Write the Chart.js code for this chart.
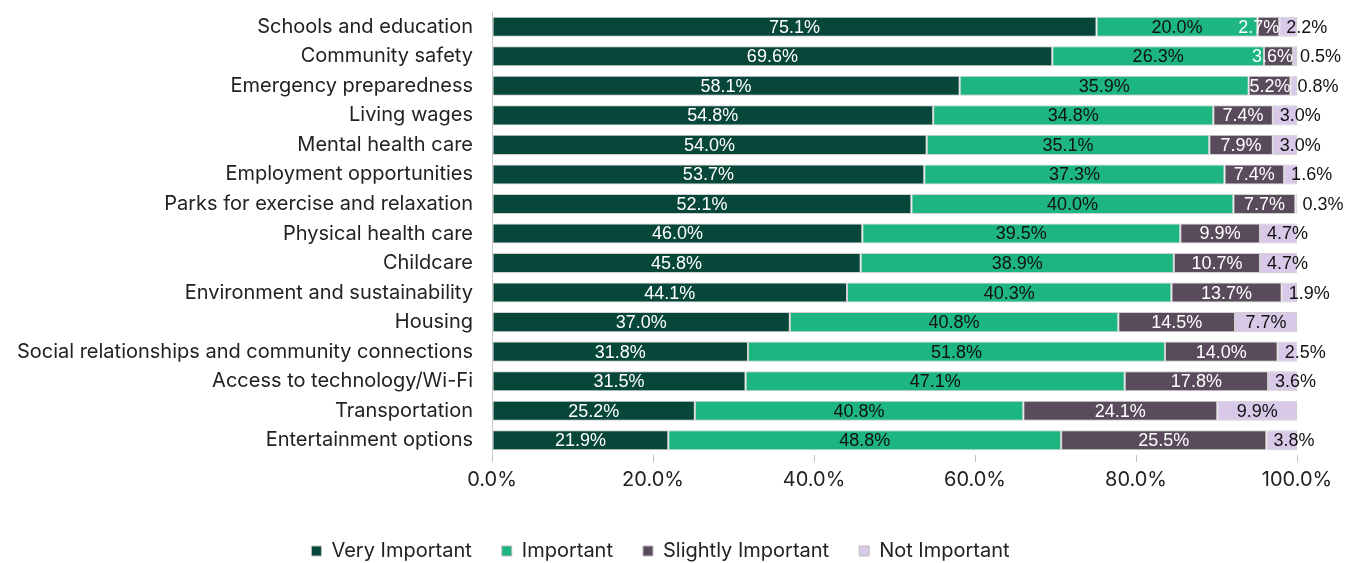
<!DOCTYPE html>
<html><head><meta charset="utf-8">
<script src="https://cdn.jsdelivr.net/npm/chart.js@4.4.1/dist/chart.umd.min.js"></script>
<style>html,body{margin:0;padding:0;background:#fff}#wrap{width:1357px;height:563px}</style>
</head><body><div id="wrap"><canvas id="c" width="1357" height="563"></canvas></div>
<script>
const categories = ["Schools and education","Community safety","Emergency preparedness","Living wages","Mental health care","Employment opportunities","Parks for exercise and relaxation","Physical health care","Childcare","Environment and sustainability","Housing","Social relationships and community connections","Access to technology/Wi-Fi","Transportation","Entertainment options"];
const veryImportant = [75.1,69.6,58.1,54.8,54.0,53.7,52.1,46.0,45.8,44.1,37.0,31.8,31.5,25.2,21.9];
const important = [20.0,26.3,35.9,34.8,35.1,37.3,40.0,39.5,38.9,40.3,40.8,51.8,47.1,40.8,48.8];
const slightlyImportant = [2.7,3.6,5.2,7.4,7.9,7.4,7.7,9.9,10.7,13.7,14.5,14.0,17.8,24.1,25.5];
const notImportant = [2.2,0.5,0.8,3.0,3.0,1.6,0.3,4.7,4.7,1.9,7.7,2.5,3.6,9.9,3.8];
const xTicks = [0,20,40,60,80,100];

const FONT = "Inter, sans-serif";
const FS = 20;
const LFONT = "'Liberation Sans', Arial, sans-serif";
const LFS = 18;
const colors = ['#07473a','#1db580','#5a4b5c','#d9c9e8'];
const labelColors = ['#ffffff','#111111','#ffffff','#111111'];

const labelPlugin = {
  id:'segLabels',
  afterLayout(chart){
    if (chart.legend) { chart.legend.left += 24; }
  },
  afterDatasetsDraw(chart){
    const ctx = chart.ctx;
    ctx.save();
    ctx.font = LFS + "px " + LFONT;
    ctx.textBaseline = 'middle';
    chart.data.datasets.forEach((ds, di) => {
      const meta = chart.getDatasetMeta(di);
      meta.data.forEach((bar, i) => {
        const v = ds.data[i];
        const txt = v.toFixed(1) + '%';
        const w = ctx.measureText(txt).width;
        const left = Math.min(bar.x, bar.base), right = Math.max(bar.x, bar.base);
        const segW = right - left;
        let x, align = 'center';
        if (w + 4 <= segW) { x = (left + right) / 2; }
        else if (di === 3) { x = left + 7; align = 'left'; }
        else if (di === 2) { x = right; align = 'right'; }
        else { x = (left + right) / 2; }
        ctx.textAlign = align;
        ctx.fillStyle = labelColors[di];
        ctx.fillText(txt, x, bar.y + 1);
      });
    });
    ctx.restore();
  }
};

new Chart(document.getElementById('c'), {
  type:'bar',
  data:{
    labels: categories,
    datasets:[
      {label:'Very Important', data: veryImportant},
      {label:'Important', data: important},
      {label:'Slightly Important', data: slightlyImportant},
      {label:'Not Important', data: notImportant}
    ].map((d,i)=>Object.assign(d,{backgroundColor:colors[i],borderColor:'#d0d0d0',borderWidth:1,borderSkipped:false,barPercentage:1,categoryPercentage:0.68}))
  },
  options:{
    indexAxis:'y',
    responsive:false,
    animation:false,
    layout:{padding:{top:0,right:60,bottom:-8,left:0}},
    plugins:{
      tooltip:{enabled:false},
      legend:{
        position:'bottom',
        labels:{font:{family:FONT,size:FS},color:'#222',boxWidth:10,boxHeight:10,padding:30,generateLabels(chart){
          return chart.data.datasets.map((d,i)=>({text:d.label,fillStyle:colors[i],strokeStyle:'#bbbbbb',lineWidth:1,fontColor:'#222',datasetIndex:i}));
        }}
      }
    },
    scales:{
      x:{
        stacked:true,min:0,max:100,
        afterBuildTicks(s){ s.ticks = xTicks.map(v=>({value:v})); },
        ticks:{font:{family:FONT,size:FS},color:'#222',callback:v=>Number(v).toFixed(1)+'%',padding:6},
        grid:{drawOnChartArea:false,drawTicks:true,tickLength:7,color:'#bfbfbf'},
        border:{display:false},
        afterFit(s){ s.height = 56; }
      },
      y:{
        stacked:true,
        ticks:{font:{family:FONT,size:FS},color:'#222',padding:0,autoSkip:false},
        grid:{display:false,drawTicks:true,tickLength:19},
        border:{display:true,color:'#c8c8c8'},
        afterFit(s){ s.width = 492; }
      }
    }
  },
  plugins:[labelPlugin]
});
</script></body></html>
